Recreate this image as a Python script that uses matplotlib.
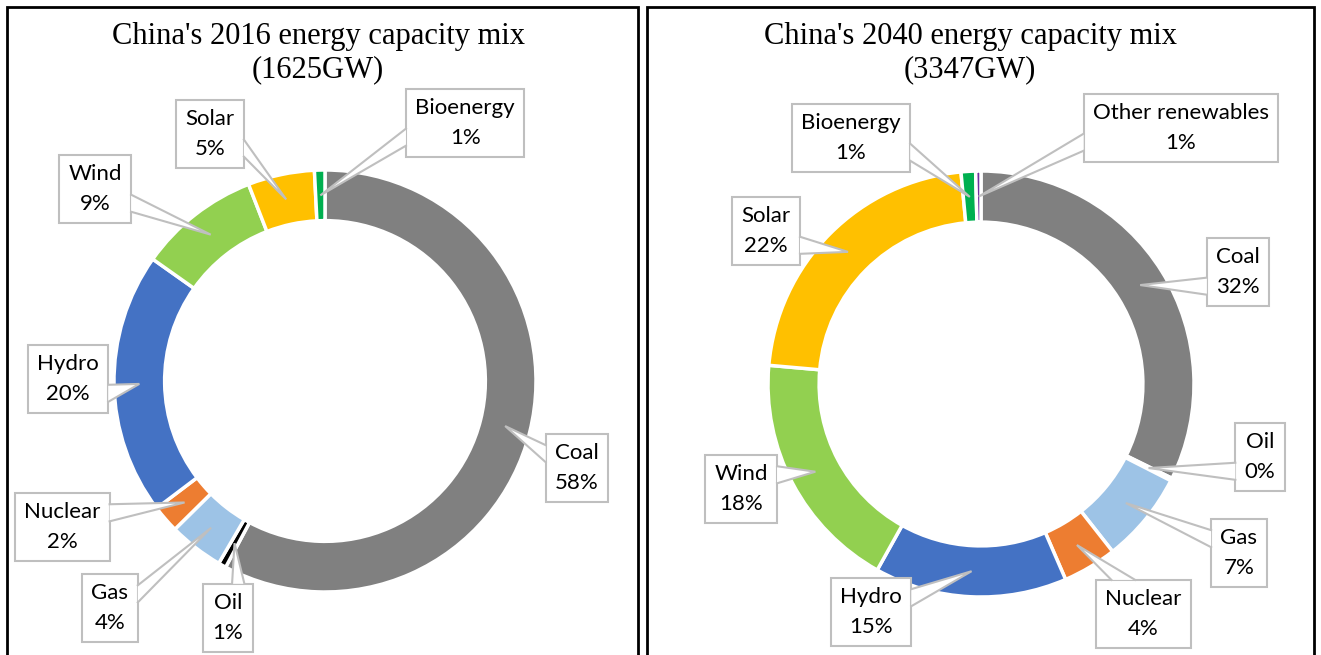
import matplotlib
matplotlib.use("Agg")
import numpy as np
import matplotlib.pyplot as plt
from matplotlib.patches import Rectangle, Polygon

# 2016 mix (shares drawn, labels as printed on the chart)
names_2016 = ["Coal", "Oil", "Gas", "Nuclear", "Hydro", "Wind", "Solar", "Bioenergy"]
shares_2016 = [57.8, 0.6, 4.2, 2.1, 20.1, 9.3, 5.1, 0.8]
pct_2016 = ["58%", "1%", "4%", "2%", "20%", "9%", "5%", "1%"]

# 2040 mix
names_2040 = ["Coal", "Oil", "Gas", "Nuclear", "Hydro", "Wind", "Solar", "Bioenergy",
              "Other renewables"]
shares_2040 = [32.3, 0.2, 6.9, 4.1, 14.6, 18.3, 22.1, 1.1, 0.4]
pct_2040 = ["32%", "0%", "7%", "4%", "15%", "18%", "22%", "1%", "1%"]

colors = {
    "Coal": "#808080", "Oil": "#000000", "Gas": "#9DC3E6", "Nuclear": "#ED7D31",
    "Hydro": "#4472C4", "Wind": "#92D050", "Solar": "#FFC000",
    "Bioenergy": "#00B050", "Other renewables": "#7030A0",
}

# label box centres (data units, pie radius = 1)
pos_2016 = [(1.194, -0.412), (-0.460, -1.123), (-1.019, -1.076), (-1.246, -0.692),
            (-1.218, 0.009), (-1.090, 0.910), (-0.545, 1.171), (0.664, 1.223)]
pos_2040 = [(1.207, 0.526), (1.310, -0.343), (1.211, -0.793), (0.761, -1.080),
            (-0.516, -1.070), (-1.127, -0.493), (-1.009, 0.718), (-0.610, 1.155),
            (0.939, 1.202)]

W, H = 1321, 655
fig = plt.figure(figsize=(W / 100, H / 100), dpi=100)

LABEL_FONT = ["Lato", "DejaVu Sans"]
TITLE_FONT = ["Liberation Serif", "DejaVu Serif"]
RING = 0.24
EDGE = "#BFBFBF"

callouts = []  # (ax, text, target)


def donut(px_box, center_px, r_px, names, shares, pcts, positions, title, title_px):
    x0, x1, top = px_box
    cx, cy = center_px
    ax = fig.add_axes([x0 / W, 0, (x1 - x0) / W, (H - top) / H])
    ax.pie(shares, colors=[colors[n] for n in names], startangle=90, counterclock=False,
           radius=1, wedgeprops=dict(width=RING, edgecolor="white", linewidth=2.5))
    ax.set_xlim((x0 - cx) / r_px, (x1 - cx) / r_px)
    ax.set_ylim((cy - H) / r_px, (cy - top) / r_px)
    ax.set_aspect("auto")
    ax.axis("off")

    cum = np.cumsum([0] + shares[:-1])
    for name, v, c, pct, (lx, ly) in zip(names, shares, cum, pcts, positions):
        theta = np.deg2rad(90 - 360 * (c + v / 2) / 100)
        rt = 1 - RING / 2
        t = ax.text(lx, ly, f"{name}\n{pct}", ha="center", va="center", fontsize=16,
                    family=LABEL_FONT, linespacing=1.6, color="black", zorder=5,
                    bbox=dict(boxstyle="square,pad=0.42", fc="white", ec=EDGE, lw=1.5))
        callouts.append((ax, t, (rt * np.cos(theta), rt * np.sin(theta))))

    tx = (title_px[0] - cx) / r_px
    ty = (cy - title_px[1]) / r_px
    ax.text(tx, ty, title, ha="center", va="center", fontsize=22,
            family=TITLE_FONT, linespacing=1.2)

    fig.add_artist(Rectangle((x0 / W, -0.1), (x1 - x0) / W, (H - top) / H + 0.1,
                             transform=fig.transFigure, fill=False, ec="black", lw=2))


donut((7, 638, 7), (325, 381), 211, names_2016, shares_2016, pct_2016, pos_2016,
      "China's 2016 energy capacity mix\n(1625GW)", (318, 53))
donut((647, 1314, 7), (981, 384), 213, names_2040, shares_2040, pct_2040, pos_2040,
      "China's 2040 energy capacity mix\n(3347GW)", (970, 53))

# Excel style wedge callouts: pointer base on the side facing the target
fig.canvas.draw()
for ax, t, (px, py) in callouts:
    bb = t.get_bbox_patch().get_window_extent().transformed(ax.transData.inverted())
    l, b, r, tp = bb.x0, bb.y0, bb.x1, bb.y1
    w, h = r - l, tp - b
    hc, vc = (l + r) / 2, (b + tp) / 2
    dx, dy = px - hc, py - vc  # dy > 0 means target above
    if abs(dx) / w > abs(dy) / h:
        xs = r if dx > 0 else l
        f1, f2 = (7, 10) if dy < 0 else (2, 5)
        p1 = (xs, tp - h * f1 / 12)
        p2 = (xs, tp - h * f2 / 12)
    else:
        ys = tp if dy > 0 else b
        f1, f2 = (7, 10) if dx > 0 else (2, 5)
        p1 = (l + w * f1 / 12, ys)
        p2 = (l + w * f2 / 12, ys)
    ax.add_patch(Polygon([p1, (px, py), p2], closed=True, fc="white", ec="none", zorder=6))
    ax.plot([p1[0], px, p2[0]], [p1[1], py, p2[1]], color=EDGE, lw=1.5, zorder=7,
            solid_joinstyle="miter")

fig.savefig("out.png", dpi=100)
